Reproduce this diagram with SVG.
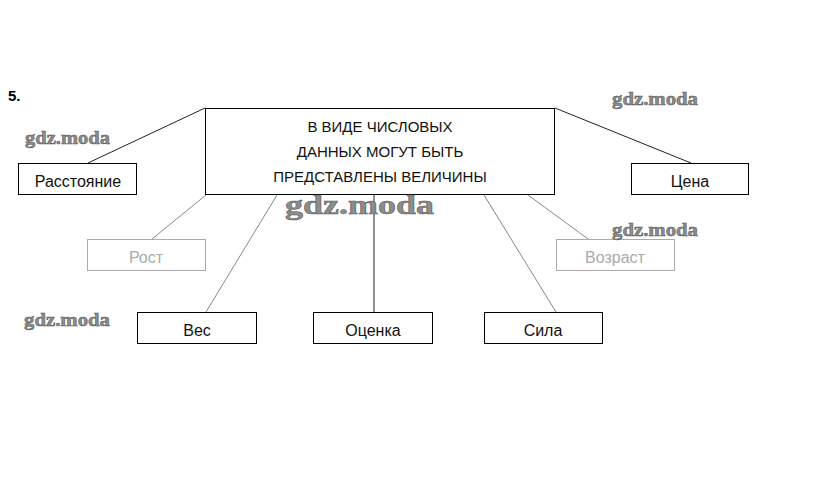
<svg xmlns="http://www.w3.org/2000/svg" width="813" height="487" viewBox="0 0 813 487">
<style>
.box{fill:#fff;stroke:#000;stroke-width:1}
.faint{fill:#fff;stroke:#aaa;stroke-width:1}
.t{font-family:"Liberation Sans",Arial,sans-serif;font-size:15px;fill:#111;text-anchor:middle}
.l{font-size:16px}
.tf{font-family:"Liberation Sans",Arial,sans-serif;font-size:16px;fill:#aaa;text-anchor:middle}
.wm{font-family:"Liberation Serif","Times New Roman",serif;font-weight:bold;fill:#8c8c8c;stroke:#555;stroke-width:0.5}
#connectors line{stroke:#222;stroke-width:1}
#connectors line.fl{stroke:#888}
</style>
<rect width="813" height="487" fill="#fff"/>
<text x="8" y="101" font-family="Liberation Sans,Arial,sans-serif" font-size="15" font-weight="bold">5.</text>
<g id="connectors">
<line x1="205" y1="108" x2="88" y2="163"/>
<line x1="555" y1="108" x2="691" y2="163"/>
<line class="fl" x1="206" y1="195" x2="152" y2="239"/>
<line class="fl" x1="277" y1="195" x2="206" y2="312"/>
<line x1="374" y1="195" x2="374" y2="312"/>
<line class="fl" x1="484" y1="195" x2="556" y2="312"/>
<line class="fl" x1="528" y1="195" x2="588" y2="239"/>
</g>
<g id="center">
<rect class="box" x="205.5" y="108.5" width="349" height="86"/>
<text class="t" x="380" y="132">В ВИДЕ ЧИСЛОВЫХ</text>
<text class="t" x="380" y="157">ДАННЫХ МОГУТ БЫТЬ</text>
<text class="t" x="380" y="182">ПРЕДСТАВЛЕНЫ ВЕЛИЧИНЫ</text>
</g>
<g id="rasstoyanie">
<rect class="box" x="18.5" y="163.5" width="118" height="31"/>
<text class="t l" x="78" y="187">Расстояние</text>
</g>
<g id="tsena">
<rect class="box" x="631.5" y="163.5" width="117" height="31"/>
<text class="t l" x="690" y="187">Цена</text>
</g>
<g id="rost">
<rect class="faint" x="87.5" y="239.5" width="118" height="31"/>
<text class="tf" x="146" y="263">Рост</text>
</g>
<g id="vozrast">
<rect class="faint" x="556.5" y="239.5" width="118" height="31"/>
<text class="tf" x="615" y="263">Возраст</text>
</g>
<g id="ves">
<rect class="box" x="137.5" y="312.5" width="119" height="31"/>
<text class="t l" x="197" y="336">Вес</text>
</g>
<g id="otsenka">
<rect class="box" x="313.5" y="312.5" width="119" height="31"/>
<text class="t l" x="373" y="336">Оценка</text>
</g>
<g id="sila">
<rect class="box" x="484.5" y="312.5" width="118" height="31"/>
<text class="t l" x="543" y="336">Сила</text>
</g>
<g id="watermarks">
<text class="wm" x="25" y="144" font-size="19" textLength="85" lengthAdjust="spacingAndGlyphs">gdz.moda</text>
<text class="wm" x="612" y="105" font-size="19" textLength="86" lengthAdjust="spacingAndGlyphs">gdz.moda</text>
<text class="wm" x="612" y="236" font-size="19" textLength="86" lengthAdjust="spacingAndGlyphs">gdz.moda</text>
<text class="wm" x="24" y="326" font-size="19" textLength="86" lengthAdjust="spacingAndGlyphs">gdz.moda</text>
<text class="wm" x="285" y="214" font-size="28" textLength="149" lengthAdjust="spacingAndGlyphs">gdz.moda</text>
</g>
</svg>
